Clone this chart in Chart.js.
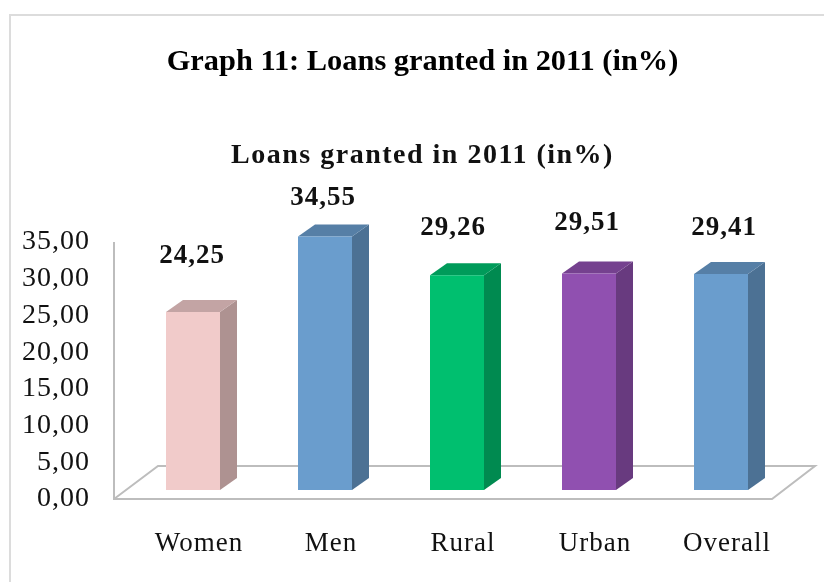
<!DOCTYPE html>
<html>
<head>
<meta charset="utf-8">
<script src="https://cdn.jsdelivr.net/npm/chart.js@4/dist/chart.umd.min.js"></script>
<style>
  html, body { margin: 0; background: #fff; }
  #marco { position: absolute; left: 9px; top: 14px; width: 815px; height: 568px; border-left: 2px solid #dcdcdc; border-top: 2px solid #dcdcdc; box-sizing: border-box; }
  canvas { position: absolute; left: 0; top: 0; }
</style>
</head>
<body>
<div id="marco"></div>
<canvas id="grafico" width="824" height="582"></canvas>
<script>
const categorias = ['Women', 'Men', 'Rural', 'Urban', 'Overall'];
const valores = [24.25, 34.55, 29.26, 29.51, 29.41];
const coloresBarra = ['#f1cbca', '#6a9dcd', '#00bf6f', '#9050b0', '#6a9dcd'];
const marcasEje = [0, 5, 10, 15, 20, 25, 30, 35];
// cuanto se mueve cada etiqueta respecto a su barra
const alturaEtiqueta = [56, 38, 47, 50, 46];
const corrimientoEtiqueta = [-1, -2, -4, -2, 3];
const colorLetra = '#111';
const fuente = 'Liberation Serif';
const tituloPrincipal = 'Graph 11: Loans granted in 2011 (in%)';
const tituloGrafico = 'Loans granted in 2011 (in%)';

// mismo color pero mas oscuro, para las caras laterales
function oscurecer(hex, f) {
    const n = parseInt(hex.slice(1), 16);
    return `rgb(${Math.round((n >> 16) * f)}, ${Math.round(((n >> 8) & 255) * f)}, ${Math.round((n & 255) * f)})`;
}
const conComa = v => v.toFixed(2).replace('.', ',');

// la letra del original viene estirada: 1px entre letras salvo en los titulos
function espaciarCaja(caja, valor) {
    const dibujar = caja.draw;
    caja.draw = function (...args) {
        this.ctx.letterSpacing = valor;
        dibujar.apply(this, args);
        this.ctx.letterSpacing = '1px';
    };
}

// piso, eje y caras 3D de las barras
const efecto3d = {
    id: 'efecto3d',
    afterLayout(chart) {
        chart.boxes.forEach(caja => {
            if (caja.options.text === tituloPrincipal) espaciarCaja(caja, '0px');
            if (caja.options.text === tituloGrafico) espaciarCaja(caja, '1.5px');
        });
    },
    beforeDraw(chart) {
        chart.ctx.letterSpacing = '1px';
    },
    beforeDatasetsDraw(chart) {
        const { ctx, chartArea, scales } = chart;
        const base = scales.y.getPixelForValue(0);
        const izq = chartArea.left - 13, der = chartArea.right - 15;
        const abajo = base + 9;
        ctx.save();
        ctx.strokeStyle = '#bdbdbd';
        ctx.lineWidth = 2;
        ctx.beginPath();
        ctx.moveTo(izq, scales.y.getPixelForValue(35) + 9);
        ctx.lineTo(izq, abajo);
        ctx.lineTo(der, abajo);
        ctx.lineTo(der + 43, abajo - 33);
        ctx.lineTo(izq + 44, abajo - 33);
        ctx.lineTo(izq, abajo);
        ctx.stroke();

        chart.getDatasetMeta(0).data.forEach((barra, i) => {
            const color = coloresBarra[i];
            const r = barra.x + barra.width / 2;
            const l = barra.x - barra.width / 2;
            const dx = 17, dy = 12;
            ctx.fillStyle = oscurecer(color, 0.72);
            ctx.beginPath();
            ctx.moveTo(r, base);
            ctx.lineTo(r + dx, base - dy);
            ctx.lineTo(r + dx, barra.y - dy);
            ctx.lineTo(r, barra.y);
            ctx.closePath();
            ctx.fill();
            ctx.fillStyle = oscurecer(color, 0.81);
            ctx.beginPath();
            ctx.moveTo(l, barra.y);
            ctx.lineTo(l + dx, barra.y - dy);
            ctx.lineTo(r + dx, barra.y - dy);
            ctx.lineTo(r, barra.y);
            ctx.closePath();
            ctx.fill();
        });
        ctx.restore();
    },
    afterDatasetsDraw(chart) {
        const { ctx } = chart;
        ctx.save();
        ctx.font = `bold 27px "${fuente}"`;
        ctx.fillStyle = colorLetra;
        ctx.textAlign = 'center';
        ctx.textBaseline = 'middle';
        chart.getDatasetMeta(0).data.forEach((barra, i) => {
            ctx.fillText(conComa(valores[i]), barra.x + corrimientoEtiqueta[i], barra.y - alturaEtiqueta[i]);
        });
        ctx.restore();
    }
};

const grafico = new Chart(document.getElementById('grafico'), {
    type: 'bar',
    data: {
        labels: categorias,
        datasets: [{
            data: valores,
            backgroundColor: coloresBarra,
            barPercentage: 54 / 132,
            categoryPercentage: 1
        }]
    },
    plugins: [efecto3d],
    options: {
        responsive: false,
        animation: false,
        layout: { padding: { left: 21 } },
        scales: {
            x: {
                grid: { display: false, drawTicks: false },
                border: { display: false },
                ticks: {
                    color: colorLetra,
                    padding: 38,
                    labelOffset: 6,
                    maxRotation: 0,
                    font: { family: fuente, size: 27 }
                },
                afterFit(s) { s.height = 92; }
            },
            y: {
                min: 0,
                max: 35,
                afterBuildTicks(s) { s.ticks = marcasEje.map(value => ({ value })); },
                grid: { display: false, drawTicks: false },
                border: { display: false },
                ticks: {
                    color: colorLetra,
                    padding: 37,
                    labelOffset: 9,
                    autoSkip: false,
                    callback: v => conComa(v),
                    font: { family: fuente, size: 28 }
                },
                afterFit(s) { s.width = 106; }
            },
            derecha: {
                position: 'right',
                grid: { display: false, drawTicks: false },
                border: { display: false },
                ticks: { display: false },
                afterFit(s) { s.width = 37; }
            }
        },
        plugins: {
            legend: { display: false },
            tooltip: { enabled: false },
            title: {
                display: true,
                text: tituloPrincipal,
                color: '#000',
                font: { family: fuente, size: 30.4, weight: 'bold' },
                padding: { top: 44, bottom: 58 }
            },
            subtitle: {
                display: true,
                text: tituloGrafico,
                color: colorLetra,
                font: { family: fuente, size: 28, weight: 'bold' },
                padding: { top: 0, bottom: 61 }
            }
        }
    }
});
</script>
</body>
</html>
